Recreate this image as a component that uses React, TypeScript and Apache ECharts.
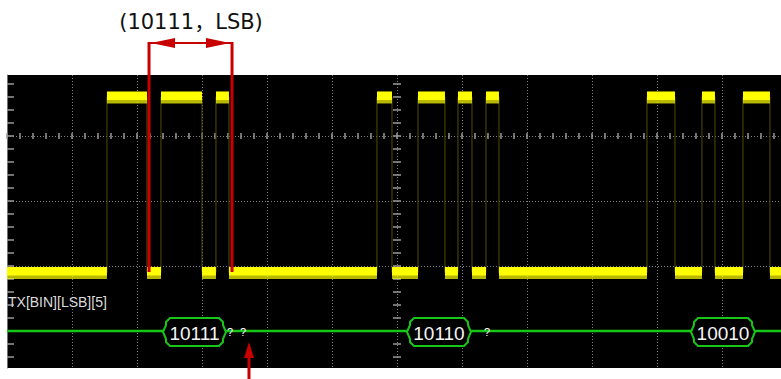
import React, { useEffect, useRef } from "react";
import * as echarts from "echarts";

// Horizontal axis: screen divisions (time); vertical axis: divisions, 0 = centre line
const X_MAX = 11.908;
const Y_MIN = -3.569;
const Y_MAX = 0.938;

// Captured UART waveform: edge times and logic levels between them
const edgeTimes = [0, 1.538, 2.154, 2.369, 3.0, 3.215, 3.415, 5.692, 5.923, 6.323, 6.738, 6.938, 7.154, 7.369, 7.569, 9.846, 10.277, 10.692, 10.892, 11.323, 11.738, 11.908];
const bitLevels = [0, 1, 0, 1, 0, 1, 0, 1, 0, 1, 0, 1, 0, 1, 0, 1, 0, 1, 0, 1, 0];
const levelPositions = [-2.1, 0.6]; // low, high (div)

// Decoder bus
const busLevel = -3;
const busLabel = "TX[BIN][LSB][5]";
const frameLabels = ["10111", "10110", "10010"];
const frameStart = [2.4, 6.154, 10.523];
const frameEnd = [3.369, 7.138, 11.508];
const unknownTimes = [3.431, 3.631, 7.385];

// Graticule
const hGridLines = [0, -1, -2, -3];
const centreX = 6;
const tickStep = 0.2;

// Annotation
const titleText = "(10111，LSB)";
const bracketRange = [2.185, 3.462];
const bracketTopY = 1.431;
const bracketBottomY = -2.092;
const pointerX = 3.723;
const pointerTipY = -3.169;
const pointerTailY = -3.738;

const GRID_COLOR = "#808080";
const TICK_COLOR = "#9a9a9a";
const GREEN = "#17c617";
const RED = "#c80000";

export default function App() {
  const ref = useRef<HTMLDivElement>(null);

  useEffect(() => {
    if (!ref.current) return;
    const chart = echarts.init(ref.current, null, { renderer: "svg" });

    // tick marks of the graticule (type 0: centre horizontal, 1: centre vertical, 2: left edge)
    const tickData: number[][] = [];
    for (let i = 0; i * tickStep <= X_MAX; i++) tickData.push([0, +(i * tickStep).toFixed(3)]);
    for (let i = Math.ceil(Y_MIN / tickStep); i * tickStep <= Y_MAX; i++) {
      const v = +(i * tickStep).toFixed(3);
      tickData.push([1, v]);
      tickData.push([2, v]);
    }

    const segments = bitLevels.map((lv, i) => [edgeTimes[i], edgeTimes[i + 1], levelPositions[lv]]);
    const transitions = edgeTimes.slice(1, -1).map((t) => [t]);
    const frames = frameLabels.map((_, i) => [frameStart[i], frameEnd[i]]);

    const option: any = {
      animation: false,
      backgroundColor: "#ffffff",
      grid: { left: 7, right: 0, top: 75, bottom: 11, show: true, backgroundColor: "#000000", borderWidth: 0 },
      xAxis: {
        type: "value",
        min: 0,
        max: X_MAX,
        interval: 1,
        axisLine: { show: false },
        axisTick: { show: false },
        axisLabel: { show: false },
        splitLine: { show: true, lineStyle: { color: GRID_COLOR, type: [1, 2], width: 1 } },
      },
      yAxis: {
        type: "value",
        min: Y_MIN,
        max: Y_MAX,
        axisLine: { show: true, onZero: false, lineStyle: { color: "#707070", width: 1 } },
        axisTick: { show: false },
        axisLabel: { show: false },
        splitLine: { show: false },
      },
      graphic: [
        {
          type: "text",
          x: 191,
          y: 22,
          style: {
            text: titleText,
            fill: "#111111",
            font: '21px "DejaVu Sans", "Noto Sans CJK SC", sans-serif',
            textAlign: "center",
            textVerticalAlign: "middle",
            align: "center",
            verticalAlign: "middle",
          },
        },
        {
          type: "text",
          x: 8,
          y: 302,
          z: 100,
          style: {
            text: busLabel,
            fill: "#dcdcdc",
            font: '14px "Liberation Sans", sans-serif',
            textAlign: "left",
            textVerticalAlign: "middle",
            align: "left",
            verticalAlign: "middle",
          },
        },
      ],
      series: [
        {
          type: "custom",
          name: "hgrid",
          silent: true,
          data: hGridLines.map((v) => [v]),
          renderItem: (params: any, api: any) => {
            const v = api.value(0);
            const p0 = api.coord([0, v]);
            const p1 = api.coord([X_MAX, v]);
            return {
              type: "line",
              shape: { x1: p0[0], y1: Math.round(p0[1]) + 0.5, x2: p1[0], y2: Math.round(p1[1]) + 0.5 },
              style: { stroke: GRID_COLOR, lineWidth: 1, lineDash: [1, 2] },
            };
          },
        },
        {
          type: "custom",
          name: "ticks",
          silent: true,
          data: tickData,
          renderItem: (params: any, api: any) => {
            const kind = api.value(0);
            const v = api.value(1);
            if (kind === 0) {
              const p = api.coord([v, 0]);
              return { type: "line", shape: { x1: p[0], y1: p[1] - 3, x2: p[0], y2: p[1] + 3 }, style: { stroke: TICK_COLOR, lineWidth: 1.5 } };
            }
            if (kind === 1) {
              const p = api.coord([centreX, v]);
              return { type: "line", shape: { x1: p[0] - 4, y1: p[1], x2: p[0] + 4, y2: p[1] }, style: { stroke: TICK_COLOR, lineWidth: 1.5 } };
            }
            const p = api.coord([0, v]);
            return { type: "line", shape: { x1: p[0], y1: p[1], x2: p[0] + 7, y2: p[1] }, style: { stroke: TICK_COLOR, lineWidth: 1.5 } };
          },
        },
        {
          type: "custom",
          name: "edges",
          silent: true,
          data: transitions,
          renderItem: (params: any, api: any) => {
            const t = api.value(0);
            const a = api.coord([t, levelPositions[1]]);
            const b = api.coord([t, levelPositions[0]]);
            return { type: "line", shape: { x1: a[0], y1: a[1], x2: b[0], y2: b[1] }, style: { stroke: "#4e4e06", lineWidth: 1 } };
          },
        },
        {
          type: "custom",
          name: "waveform",
          silent: true,
          data: segments,
          renderItem: (params: any, api: any) => {
            const a = api.coord([api.value(0), api.value(2)]);
            const b = api.coord([api.value(1), api.value(2)]);
            const w = b[0] - a[0];
            return {
              type: "group",
              children: [
                { type: "rect", shape: { x: a[0], y: a[1] + 2.5, width: w, height: 4 }, style: { fill: "rgba(255,255,0,0.72)" } },
                { type: "rect", shape: { x: a[0], y: a[1] - 5.5, width: w, height: 8.5 }, style: { fill: "#ffff00" } },
              ],
            };
          },
        },
        {
          type: "line",
          name: "bus",
          silent: true,
          showSymbol: false,
          data: [[0, busLevel], [X_MAX, busLevel]],
          lineStyle: { color: GREEN, width: 2.5 },
        },
        {
          type: "custom",
          name: "frames",
          silent: true,
          z: 5,
          data: frames,
          renderItem: (params: any, api: any) => {
            const s = api.coord([api.value(0), busLevel]);
            const e = api.coord([api.value(1), busLevel]);
            const x0 = s[0], x1 = e[0], yc = s[1] + 1, h = 14;
            const pts = [
              [x0, yc], [x0 + 3, yc - 7], [x0 + 3, yc - h + 4], [x0 + 7, yc - h], [x1 - 7, yc - h], [x1 - 3, yc - h + 4], [x1 - 3, yc - 7],
              [x1, yc], [x1 - 3, yc + 7], [x1 - 3, yc + h - 4], [x1 - 7, yc + h], [x0 + 7, yc + h], [x0 + 3, yc + h - 4], [x0 + 3, yc + 7],
            ];
            return {
              type: "group",
              children: [
                { type: "polygon", shape: { points: pts }, style: { fill: "#000000", stroke: GREEN, lineWidth: 2 } },
                {
                  type: "text",
                  style: {
                    text: frameLabels[params.dataIndex],
                    x: (x0 + x1) / 2,
                    y: yc + 1,
                    fill: "#f4f4f4",
                    font: '19px "Liberation Sans", sans-serif',
                    textAlign: "center",
                    textVerticalAlign: "middle",
                    align: "center",
                    verticalAlign: "middle",
                  },
                },
              ],
            };
          },
        },
        {
          type: "custom",
          name: "unknown",
          silent: true,
          z: 5,
          data: unknownTimes.map((t) => [t]),
          renderItem: (params: any, api: any) => {
            const p = api.coord([api.value(0), busLevel]);
            return {
              type: "text",
              style: {
                text: "?",
                x: p[0],
                y: p[1] + 1,
                fill: "#ffffff",
                font: '11px "Liberation Sans", sans-serif',
                textAlign: "center",
                textVerticalAlign: "middle",
                align: "center",
                verticalAlign: "middle",
              },
            };
          },
        },
        {
          type: "custom",
          name: "annotation",
          silent: true,
          clip: false,
          z: 10,
          data: [[bracketRange[0], bracketRange[1]]],
          renderItem: (params: any, api: any) => {
            const a = api.coord([api.value(0), bracketTopY]);
            const b = api.coord([api.value(1), bracketTopY]);
            const aBot = api.coord([api.value(0), bracketBottomY]);
            const bBot = api.coord([api.value(1), bracketBottomY]);
            const tip = api.coord([pointerX, pointerTipY]);
            const tail = api.coord([pointerX, pointerTailY]);
            const st = { stroke: RED, lineWidth: 3 };
            return {
              type: "group",
              children: [
                { type: "line", shape: { x1: a[0], y1: a[1] - 1, x2: aBot[0], y2: aBot[1] }, style: st },
                { type: "line", shape: { x1: b[0], y1: b[1] - 1, x2: bBot[0], y2: bBot[1] }, style: st },
                { type: "line", shape: { x1: a[0], y1: a[1], x2: b[0], y2: b[1] }, style: { stroke: RED, lineWidth: 2 } },
                { type: "polygon", shape: { points: [[a[0] + 2, a[1]], [a[0] + 26, a[1] - 5], [a[0] + 26, a[1] + 5]] }, style: { fill: RED } },
                { type: "polygon", shape: { points: [[b[0] - 2, b[1]], [b[0] - 26, b[1] - 5], [b[0] - 26, b[1] + 5]] }, style: { fill: RED } },
                { type: "line", shape: { x1: tip[0], y1: tip[1] + 12, x2: tail[0], y2: tail[1] }, style: st },
                { type: "polygon", shape: { points: [[tip[0], tip[1]], [tip[0] - 5, tip[1] + 16], [tip[0] + 5, tip[1] + 16]] }, style: { fill: RED } },
              ],
            };
          },
        },
      ],
    };

    chart.setOption(option);
    return () => chart.dispose();
  }, []);

  return (
    <div
      ref={ref}
      style={{ position: "fixed", left: 0, top: 0, width: 781, height: 379, background: "#ffffff" }}
    />
  );
}
